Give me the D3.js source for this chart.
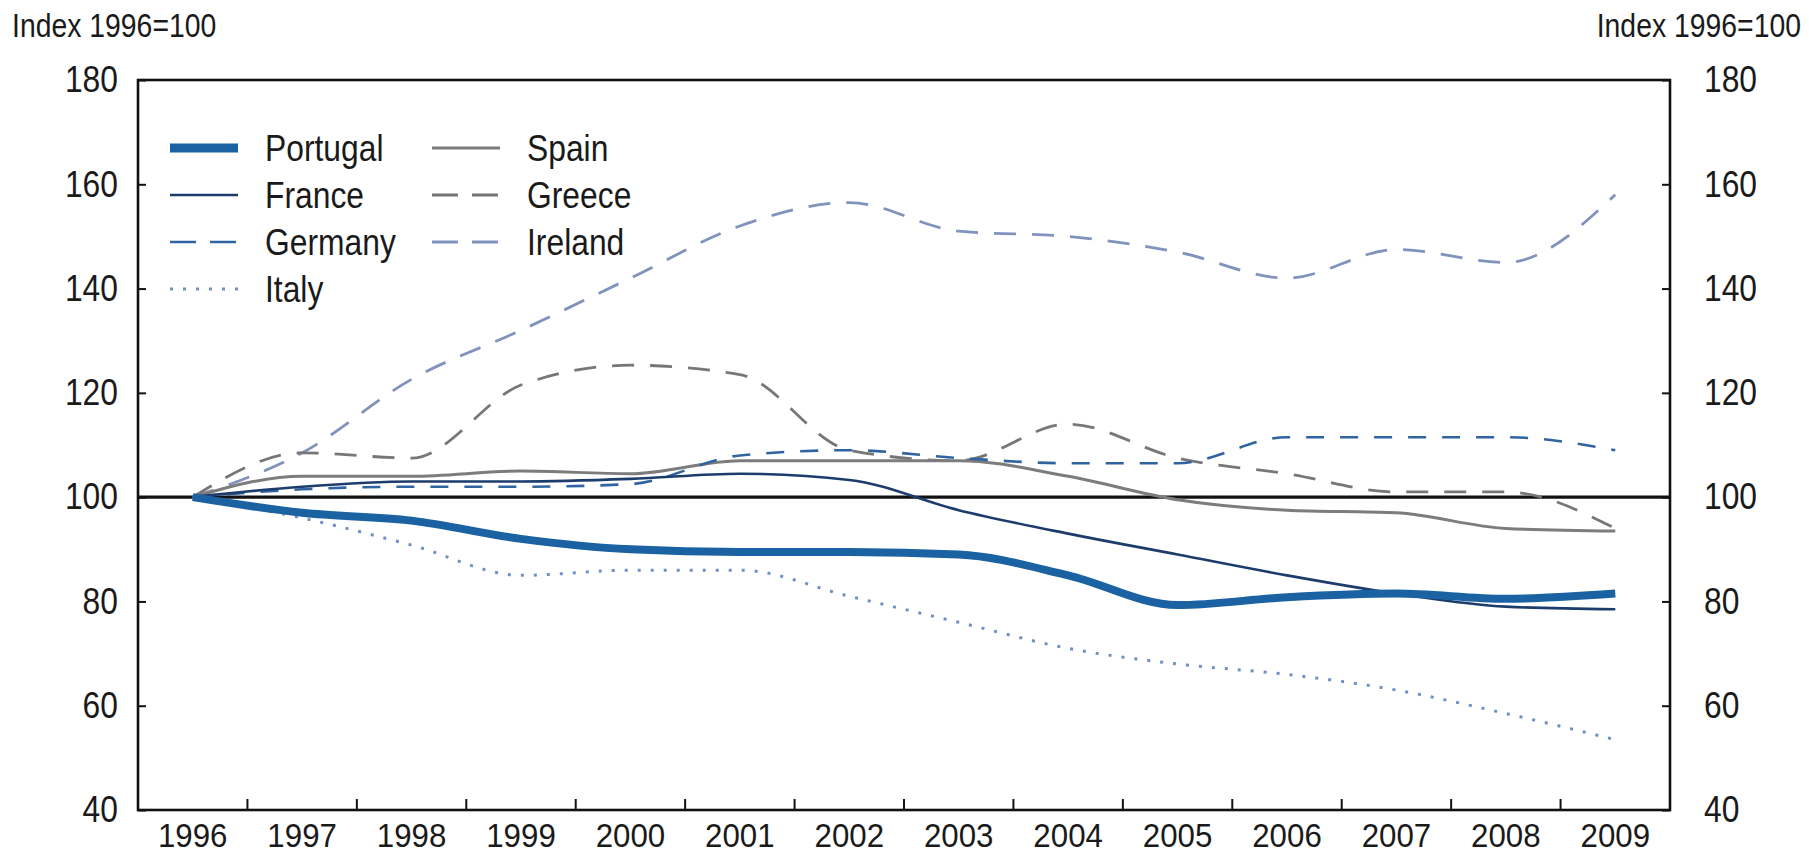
<!DOCTYPE html>
<html>
<head>
<meta charset="utf-8">
<script src="https://cdn.jsdelivr.net/npm/d3@7"></script>
<style>
  html, body { margin: 0; padding: 0; background: #fff; }
  svg text { font-family: "Liberation Sans", Arial, sans-serif; fill: #1a1a1a; }
</style>
</head>
<body>
<svg id="chart" width="1809" height="857"></svg>
<script>
const years = ["1996","1997","1998","1999","2000","2001","2002","2003","2004","2005","2006","2007","2008","2009"];
const yTicks = [40, 60, 80, 100, 120, 140, 160, 180];
const axisTitle = "Index 1996=100";

const portugal = [100, 97, 95.5, 92, 90, 89.5, 89.5, 89, 85, 79.3, 80.8, 81.5, 80.5, 81.5];
const france   = [100, 102, 103, 103, 103.5, 104.5, 103.3, 97.5, 93, 89, 85, 81.5, 79, 78.5];
const germany  = [100, 101.5, 102, 102, 102.5, 108, 109, 107.5, 106.5, 106.5, 111.5, 111.5, 111.5, 109];
const italy    = [100, 96, 90.8, 85, 86, 86, 81, 76, 71, 68, 66, 63, 58.5, 53.5];
const spain    = [100, 104, 104, 105, 104.5, 107, 107, 107, 104, 99.5, 97.5, 97, 94, 93.5];
const greece   = [100, 108.5, 107.5, 121.5, 125.3, 123.5, 109, 107, 114, 107.5, 104.5, 101, 101, 94];
const ireland  = [100, 108.5, 122.6, 132, 142, 152, 156.5, 151, 150, 147, 142, 147.5, 145, 158];

const seriesNames = ["Portugal","France","Germany","Italy","Spain","Greece","Ireland"];
const seriesValues = [portugal, france, germany, italy, spain, greece, ireland];
const styles = {
  Portugal: {color: "#1b62a3", width: 8, dash: null},
  France:   {color: "#1c3d6c", width: 2.6, dash: null},
  Germany:  {color: "#2f64a0", width: 2.6, dash: "18,16"},
  Italy:    {color: "#6f90c4", width: 3, dash: "3,10"},
  Spain:    {color: "#7c7c7c", width: 3, dash: null},
  Greece:   {color: "#777777", width: 2.8, dash: "22,16"},
  Ireland:  {color: "#7f93bd", width: 2.8, dash: "22,16"}
};

const svg = d3.select("#chart");
const L = 138, R = 1670, T = 80, B = 810;
const SX = 0.86;   // horizontal condensing of the text
const fs = 37;

const xBand = d3.scaleBand().domain(years).range([L, R]).padding(0);
const x = d => xBand(d) + xBand.bandwidth() / 2;
const y = d3.scaleLinear().domain([40, 180]).range([B, T]);

// Reference line at 100
svg.append("line").attr("x1", L).attr("x2", R).attr("y1", y(100)).attr("y2", y(100))
  .attr("stroke", "#111").attr("stroke-width", 3.2);

// Series
const line = d3.line().x((d, i) => x(years[i])).y(d => y(d)).curve(d3.curveMonotoneX);
const drawOrder = ["Ireland","Greece","Spain","Germany","Italy","France","Portugal"];
drawOrder.forEach(name => {
  const vals = seriesValues[seriesNames.indexOf(name)];
  const s = styles[name];
  svg.append("path").datum(vals).attr("d", line).attr("fill", "none")
    .attr("stroke", s.color).attr("stroke-width", s.width)
    .attr("stroke-dasharray", s.dash)
    .attr("stroke-linejoin", "round");
});

// Frame
svg.append("rect").attr("x", L).attr("y", T).attr("width", R - L).attr("height", B - T)
  .attr("fill", "none").attr("stroke", "#111").attr("stroke-width", 2.6);

// Left axis
const leftAxis = d3.axisLeft(y).tickValues(yTicks).tickSize(-8).tickPadding(20);
const gL = svg.append("g").attr("transform", `translate(${L},0)`).call(leftAxis);
gL.select(".domain").remove();
gL.selectAll(".tick line").attr("stroke", "#111").attr("stroke-width", 2);
gL.selectAll(".tick text").attr("font-size", fs).attr("fill", "#1a1a1a")
  .attr("x", -20 / SX).attr("transform", `scale(${SX},1)`);

const rightAxis = d3.axisRight(y).tickValues(yTicks).tickSize(-8).tickPadding(34);
const gR = svg.append("g").attr("transform", `translate(${R},0)`).call(rightAxis);
gR.select(".domain").remove();
gR.selectAll(".tick line").attr("stroke", "#111").attr("stroke-width", 2);
gR.selectAll(".tick text").attr("font-size", fs).attr("fill", "#1a1a1a")
  .attr("x", 34 / SX).attr("transform", `scale(${SX},1)`);

// Bottom axis: labels at band centers, ticks at band boundaries
const fsB = 34, SXB = 0.92;
const bottomAxis = d3.axisBottom(xBand).tickSize(0).tickPadding(13);
const gB = svg.append("g").attr("transform", `translate(0,${B})`).call(bottomAxis);
gB.select(".domain").remove();
gB.selectAll(".tick text").attr("font-size", fsB).attr("fill", "#1a1a1a")
  .attr("transform", `scale(${SXB},1)`);
svg.append("g").selectAll("line").data(years.slice(1)).join("line")
  .attr("x1", d => xBand(d)).attr("x2", d => xBand(d))
  .attr("y1", B).attr("y2", B - 11).attr("stroke", "#111").attr("stroke-width", 2);

// Axis titles
svg.append("g").attr("transform", "translate(12,37)")
  .append("text").attr("font-size", 33).attr("transform", `scale(${SX},1)`).text(axisTitle);
svg.append("g").attr("transform", "translate(1801,37)")
  .append("text").attr("font-size", 33).attr("text-anchor", "end").attr("transform", `scale(${SX},1)`).text(axisTitle);

// Legend
const legendCols = [["Portugal","France","Germany","Italy"], ["Spain","Greece","Ireland"]];
const colX = [170, 432];
const rowY0 = 148, rowDY = 47;
legendCols.forEach((col, ci) => {
  col.forEach((name, ri) => {
    const s = styles[name];
    const yy = rowY0 + ri * rowDY;
    svg.append("line").attr("x1", colX[ci]).attr("x2", colX[ci] + 68).attr("y1", yy).attr("y2", yy)
      .attr("stroke", s.color).attr("stroke-width", name === "Portugal" ? 9 : s.width)
      .attr("stroke-dasharray", name === "Italy" ? "3,10" : (s.dash ? "26,14" : null));
    svg.append("g").attr("transform", `translate(${colX[ci] + 95},${yy})`)
      .append("text").attr("dy", "0.35em").attr("font-size", fs)
      .attr("transform", `scale(${SX},1)`).text(name);
  });
});
</script>
</body>
</html>
